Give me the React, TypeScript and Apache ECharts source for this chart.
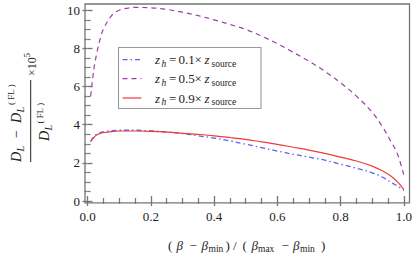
import React, { useEffect, useRef } from "react";
import * as echarts from "echarts";

const xs = [0.01, 0.02, 0.03, 0.04, 0.05, 0.075, 0.1, 0.15, 0.2, 0.25, 0.3, 0.35, 0.4, 0.45, 0.5, 0.55, 0.6, 0.65, 0.7, 0.75, 0.8, 0.85, 0.9, 0.93, 0.96, 0.98, 1.0];
const z01 = [3.12, 3.38, 3.52, 3.59, 3.63, 3.69, 3.71, 3.71, 3.68, 3.62, 3.54, 3.42, 3.3, 3.15, 2.98, 2.8, 2.62, 2.45, 2.3, 2.14, 1.93, 1.72, 1.48, 1.27, 0.97, 0.78, 0.55];
const z05 = [5.5, 6.9, 7.8, 8.5, 9.0, 9.7, 10.0, 10.15, 10.13, 10.05, 9.9, 9.72, 9.5, 9.26, 9.0, 8.65, 8.25, 7.8, 7.33, 6.8, 6.2, 5.5, 4.65, 3.95, 3.1, 2.45, 1.35];
const z09 = [3.12, 3.33, 3.47, 3.54, 3.58, 3.64, 3.67, 3.67, 3.65, 3.61, 3.55, 3.49, 3.42, 3.33, 3.23, 3.1, 2.97, 2.82, 2.67, 2.5, 2.3, 2.1, 1.83, 1.6, 1.3, 1.0, 0.6];
const legendCoeffs = ["0.1", "0.5", "0.9"];
const xTicks = { min: 0, max: 1, interval: 0.2 };
const yTicks = { min: 0, max: 10, interval: 2 };

const SERIF = "Liberation Serif";
const BLUE = "#5a63ee";
const PURPLE = "#9b3fa6";
const RED = "#f03a3a";
const FRAME = "#767676";
const TEXT = "#222";

function txt(x: number, y: number, text: string, size: number, italic = false, align = "left") {
  return {
    type: "text",
    x,
    y,
    silent: true,
    style: {
      text,
      fill: TEXT,
      font: `${italic ? "italic " : ""}${size}px "${SERIF}", serif`,
      textAlign: align,
      align,
      textVerticalAlign: "middle",
      verticalAlign: "middle",
    },
  };
}

export default function App() {
  const ref = useRef<HTMLDivElement>(null);
  useEffect(() => {
    if (!ref.current) return;
    const chart = echarts.init(ref.current, null, { renderer: "svg" });
    const mk = (vals: number[]) => xs.map((x, i) => [x, vals[i]]);

    const axisCommon = {
      type: "value",
      axisLine: { show: false },
      axisTick: { show: true, inside: true, length: 5, lineStyle: { color: FRAME, width: 1.3 } },
      minorTick: { show: true, splitNumber: 4, length: 3, lineStyle: { color: FRAME, width: 1.2 } },
      splitLine: { show: false },
      minorSplitLine: { show: false },
    };

    // Frame
    const frame = {
      type: "polygon",
      silent: true,
      shape: { points: [[85, 4], [409.5, 4], [409.5, 202.8], [85, 202.8]] },
      style: { fill: "none", stroke: FRAME, lineWidth: 1.3 },
      z: 50,
    };

    // Legend graphics
    const rowsY = [59.7, 78.7, 98];
    const styles = [
      { color: BLUE, dash: [5, 3, 1.5, 3] },
      { color: PURPLE, dash: [5, 4] },
      { color: RED, dash: null },
    ];
    const legendEls: any[] = [
      {
        type: "rect",
        shape: { x: 118.5, y: 47.5, width: 142.5, height: 61 },
        style: { fill: "#fff", stroke: "#999", lineWidth: 1.1 },
        z: 10,
      },
    ];
    legendCoeffs.forEach((c, i) => {
      const y = rowsY[i];
      legendEls.push({
        type: "line",
        shape: { x1: 122.5, y1: y, x2: 141.5, y2: y },
        style: { stroke: styles[i].color, lineWidth: 1.2, lineDash: styles[i].dash || undefined },
        z: 11,
      });
      const parts = [
        txt(155, y, "z", 13, true),
        txt(161.5, y + 4, "h", 9.5, true),
        txt(169, y, "=", 13),
        txt(178.5, y, c, 13),
        txt(194.5, y, "\u00d7", 13),
        txt(204.5, y, "z", 13, true),
        txt(211.5, y + 4, "source", 9.5),
      ];
      parts.forEach((p: any) => { p.z = 11; legendEls.push(p); });
    });

    // X axis title
    const ty = 245;
    const sy = 248.5;
    const xTitle = [
      txt(168, ty, "(", 13),
      txt(176.5, ty, "\u03b2", 13, true),
      txt(189.5, ty, "\u2212", 13),
      txt(201.5, ty, "\u03b2", 13, true),
      txt(208.5, sy, "min", 9.5),
      txt(225.5, ty, ")", 13),
      txt(233, ty, "/", 13),
      txt(242.5, ty, "(", 13),
      txt(251.5, ty, "\u03b2", 13, true),
      txt(258, sy, "max", 9.5),
      txt(281.5, ty, "\u2212", 13),
      txt(293, ty, "\u03b2", 13, true),
      txt(300, sy, "min", 9.5),
      txt(321, ty, ")", 13),
    ];

    // Y axis title (rotated fraction)
    const yTitle = {
      type: "group",
      x: 30.7,
      y: 121,
      rotation: Math.PI / 2,
      children: [
        { type: "line", shape: { x1: -41, y1: 0, x2: 41, y2: 0 }, style: { stroke: TEXT, lineWidth: 1 } },
        txt(-41, -14, "D", 14, true),
        txt(-30.5, -10, "L", 10, true),
        txt(-17, -14, "\u2212", 14),
        txt(-2, -14, "D", 14, true),
        txt(8.5, -10, "L", 10, true),
        txt(16, -19.5, "( FL )", 9),
        txt(-20, 14, "D", 14, true),
        txt(-9.5, 18, "L", 10, true),
        txt(-2.5, 9, "( FL )", 9),
        txt(45, 1, "\u00d710", 12),
        txt(63.5, -4, "5", 9),
      ],
    };

    const labelStyle = {
      show: true,
      color: TEXT,
      fontFamily: SERIF,
      fontSize: 13,
    };

    chart.setOption({
      animation: false,
      grid: { left: 87.5, right: 10, top: 10.3, bottom: 58, containLabel: false },
      xAxis: [
        {
          ...axisCommon,
          position: "bottom",
          offset: 1.8,
          min: xTicks.min,
          max: xTicks.max,
          interval: xTicks.interval,
          axisLabel: { ...labelStyle, margin: 7, formatter: (v: number) => v.toFixed(1) },
        },
        {
          ...axisCommon,
          position: "top",
          offset: 6.3,
          min: xTicks.min,
          max: xTicks.max,
          interval: xTicks.interval,
          axisLabel: { show: false },
        },
      ],
      yAxis: [
        {
          ...axisCommon,
          position: "left",
          offset: 2.5,
          min: yTicks.min,
          max: yTicks.max,
          interval: yTicks.interval,
          axisLabel: { ...labelStyle, margin: 5 },
        },
        {
          ...axisCommon,
          position: "right",
          offset: 4.5,
          min: yTicks.min,
          max: yTicks.max,
          interval: yTicks.interval,
          axisLabel: { show: false },
        },
      ],
      series: [
        {
          type: "line",
          data: mk(z01),
          showSymbol: false,
          smooth: 0.35,
          clip: false,
          lineStyle: { color: BLUE, width: 1.3, type: [5, 3, 1.5, 3] },
          itemStyle: { color: BLUE },
          z: 3,
        },
        {
          type: "line",
          data: mk(z05),
          showSymbol: false,
          smooth: 0.35,
          clip: false,
          lineStyle: { color: PURPLE, width: 1.2, type: [5, 4] },
          itemStyle: { color: PURPLE },
          z: 2,
        },
        {
          type: "line",
          data: mk(z09),
          showSymbol: false,
          smooth: 0.35,
          clip: false,
          lineStyle: { color: RED, width: 1.2 },
          itemStyle: { color: RED },
          z: 4,
        },
      ],
      graphic: [frame, ...legendEls, ...xTitle, yTitle],
    });
    return () => chart.dispose();
  }, []);
  return <div ref={ref} style={{ width: 415, height: 259, position: "absolute", left: 0, top: 0 }} />;
}
